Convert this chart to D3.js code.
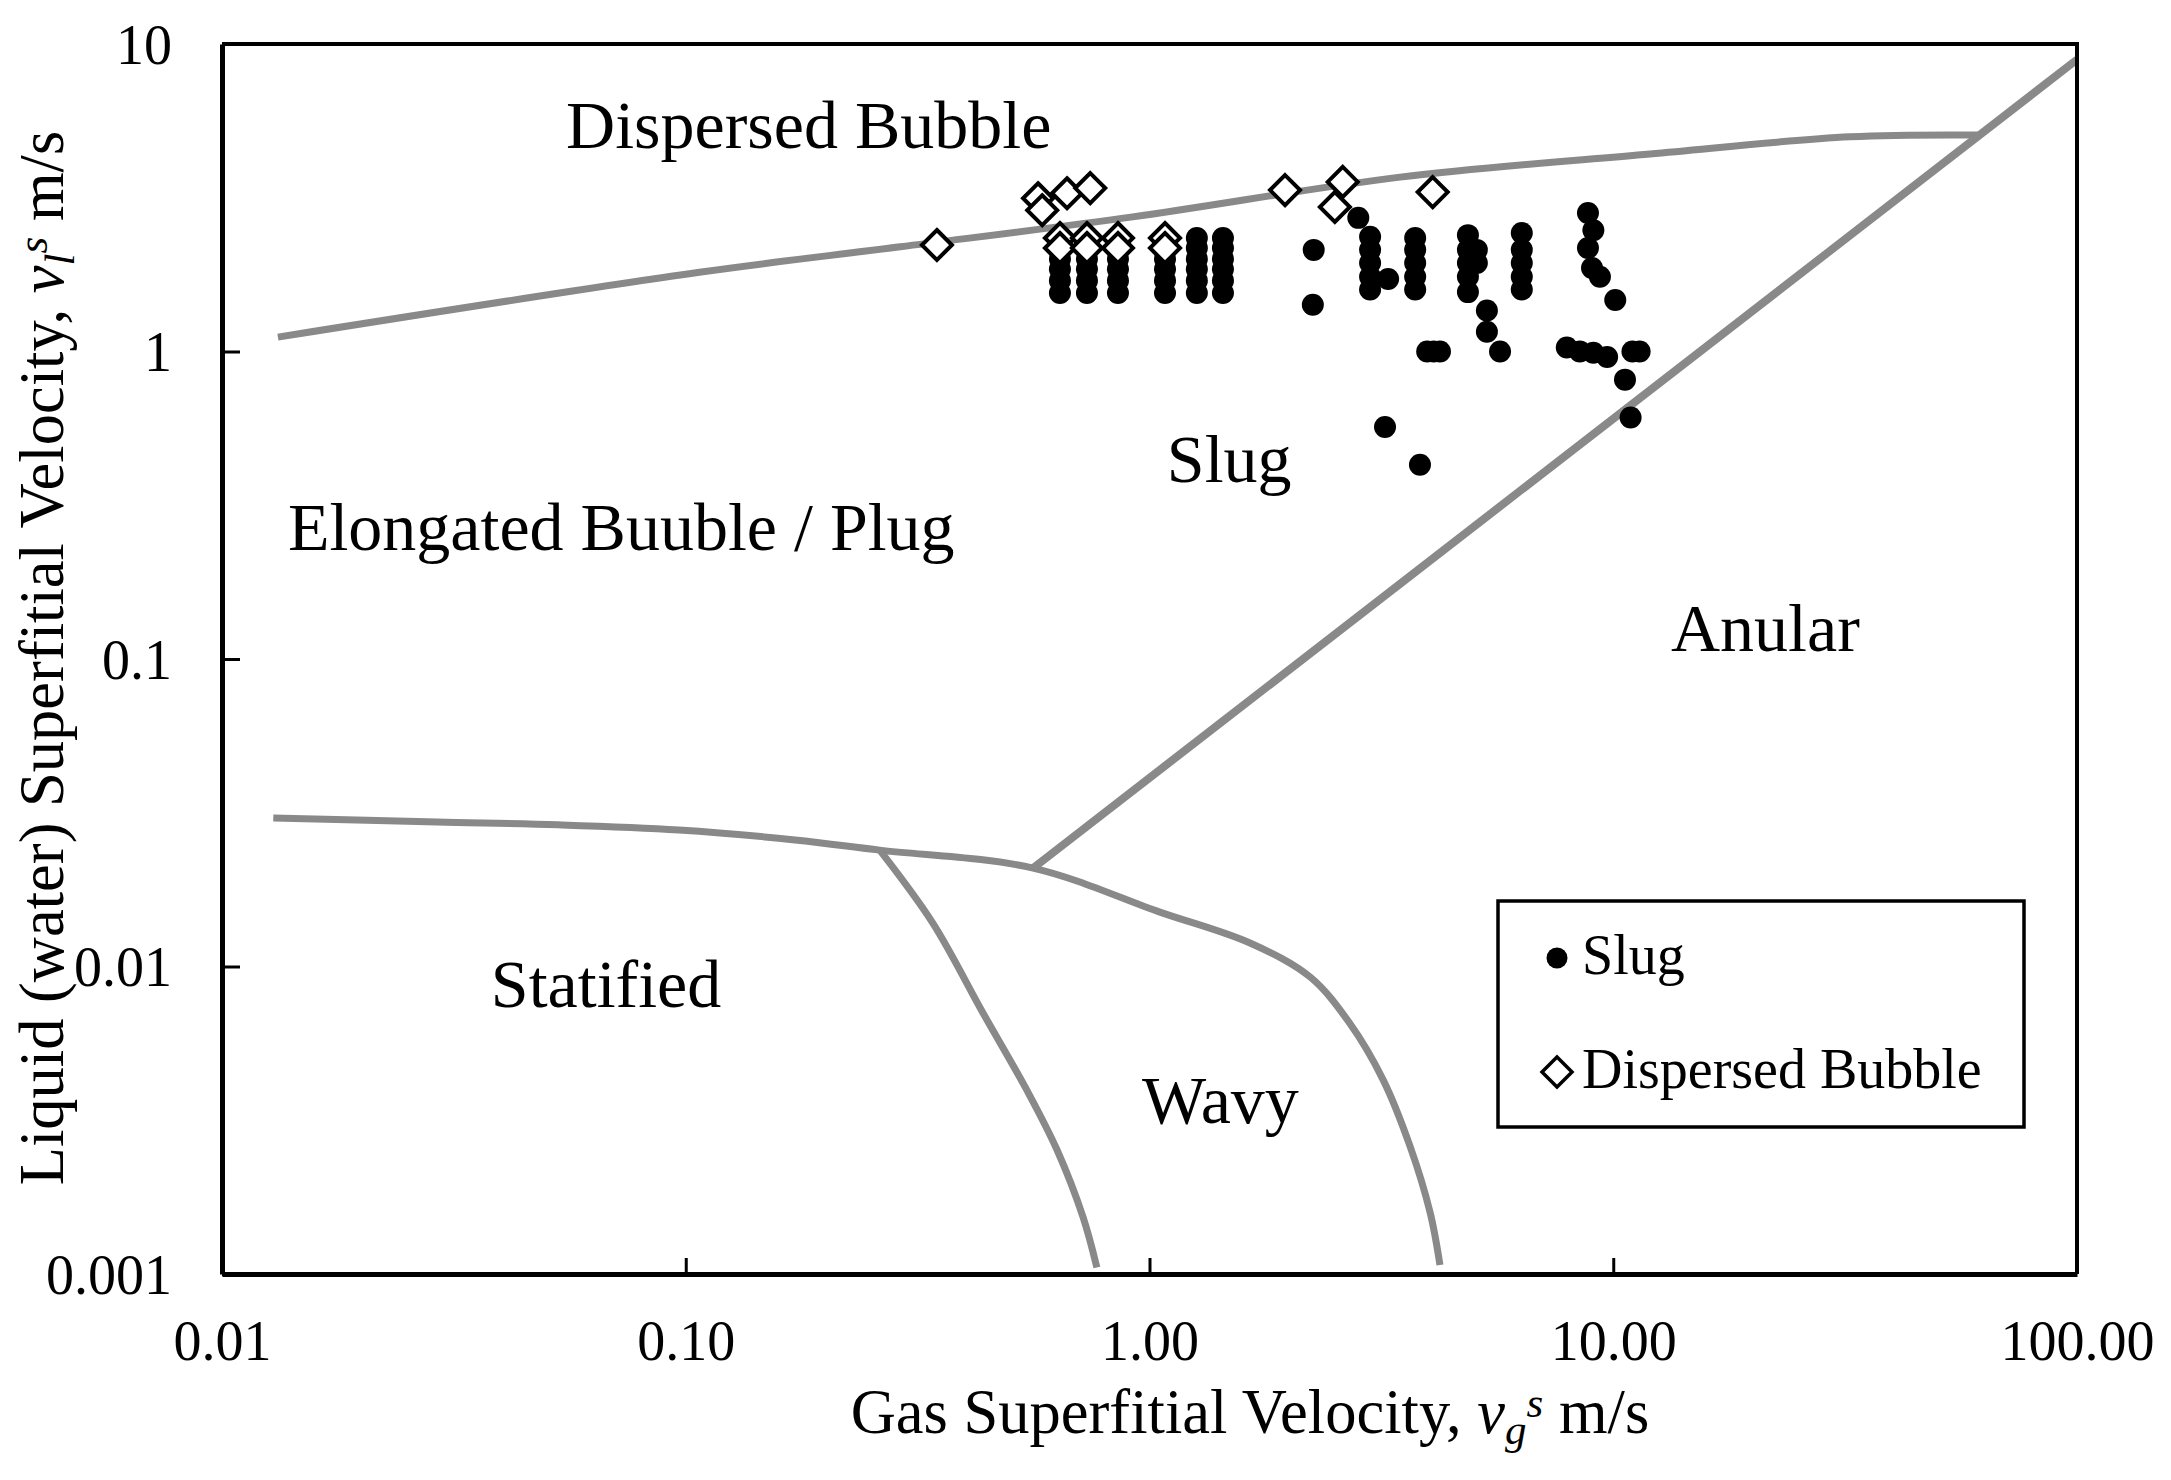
<!DOCTYPE html>
<html>
<head>
<meta charset="utf-8">
<script src="https://cdn.jsdelivr.net/npm/d3@7"></script>
<style>
	body { margin: 0; background: #fff; }
	text { font-family: "Liberation Serif", "Times New Roman", serif; fill: #000; }
</style>
</head>
<body>
<svg id="chart" width="2171" height="1480"></svg>
<script>
// axis ticks
const gasTicks = [0.01, 0.1, 1, 10, 100]
const liquidTicks = [0.001, 0.01, 0.1, 1, 10]

// flow regime boundaries, [gas vel, liquid vel]
const dispersedBoundary = [[0.0132, 1.114], [0.107, 1.81], [0.29, 2.19], [0.92, 2.74], [3.47, 3.69], [12.0, 4.39], [32.4, 4.99], [61.8, 5.06]]
const stratifiedBoundary = [[0.0129, 0.0304], [0.0291, 0.0295], [0.053, 0.0289], [0.0967, 0.0278], [0.172, 0.0258], [0.262, 0.0239], [0.561, 0.0209],
	[1.053, 0.01503], [1.647, 0.01192], [2.219, 0.00925], [2.70, 0.00655], [3.19, 0.00428], [3.65, 0.00259], [4.03, 0.00158], [4.23, 0.00107]]
const wavyBoundary = [[0.262, 0.0239], [0.341, 0.01384], [0.4375, 0.00706], [0.544, 0.00396], [0.632, 0.00253], [0.719, 0.00153], [0.770, 0.00105]]
const annularBoundary = [[0.561, 0.0209], [100, 8.9]]

// observed points
const slugPoints = [
	[0.641, 1.55], [0.641, 1.7], [0.641, 1.85], [0.641, 2.0],
	[0.733, 1.55], [0.733, 1.7], [0.733, 1.85], [0.733, 2.0],
	[0.855, 1.55], [0.855, 1.7], [0.855, 1.85], [0.855, 2.0],
	[1.08, 1.55], [1.08, 1.7], [1.08, 1.85], [1.08, 2.0],
	[1.265, 1.55], [1.265, 1.7], [1.265, 1.85], [1.265, 2.0], [1.265, 2.17], [1.265, 2.34],
	[1.44, 1.55], [1.44, 1.7], [1.44, 1.85], [1.44, 2.0], [1.44, 2.17], [1.44, 2.34],
	[2.26, 2.14], [2.25, 1.42], [2.82, 2.72],
	[2.99, 1.59], [2.99, 1.75], [2.99, 1.94], [2.99, 2.14], [2.99, 2.36],
	[3.27, 1.72],
	[3.74, 1.59], [3.74, 1.75], [3.74, 1.94], [3.74, 2.14], [3.74, 2.34],
	[3.22, 0.568], [3.83, 0.428],
	[3.97, 1.0], [4.1, 1.0], [4.23, 1.0],
	[4.86, 1.56], [4.86, 1.75], [4.86, 1.94], [4.86, 2.14], [4.86, 2.39], [5.08, 2.14], [5.08, 1.94],
	[5.34, 1.36], [5.34, 1.16], [5.70, 1.0],
	[6.35, 1.59], [6.35, 1.75], [6.35, 1.94], [6.35, 2.14], [6.35, 2.43],
	[8.82, 2.82], [9.06, 2.48], [8.82, 2.17], [9.0, 1.87], [9.36, 1.75], [10.1, 1.47],
	[7.94, 1.03], [8.47, 1.0], [9.06, 0.99], [9.7, 0.96], [11.0, 1.0], [11.4, 1.0],
	[10.6, 0.81], [10.9, 0.61]
]
const bubblePoints = [
	[0.348, 2.22], [0.575, 3.15], [0.587, 2.88], [0.664, 3.27], [0.745, 3.40],
	[0.641, 2.34], [0.641, 2.17], [0.733, 2.34], [0.733, 2.17], [0.855, 2.34], [0.855, 2.17],
	[1.08, 2.34], [1.08, 2.17], [1.96, 3.35], [2.61, 3.56], [2.51, 2.95], [4.08, 3.30]
]

// region names and where they sit (data units, left/baseline)
const regionLabels = [
	{ name: "Dispersed Bubble", at: [0.0552, 4.59] },
	{ name: "Slug", at: [1.09, 0.376] },
	{ name: "Elongated Buuble / Plug", at: [0.01387, 0.2262] },
	{ name: "Anular", at: [13.32, 0.1062] },
	{ name: "Statified", at: [0.038, 0.00738] },
	{ name: "Wavy", at: [0.963, 0.0031] }
]
const legendItems = ["Slug", "Dispersed Bubble"]

const plotL = 222, plotR = 2077, plotT = 44, plotB = 1274
const svg = d3.select("#chart")

const x = d3.scaleLog().domain([0.01, 100]).range([plotL, plotR])
const y = d3.scaleLog().domain([0.001, 10]).range([plotB, plotT])

svg.append("defs").append("clipPath").attr("id", "plotClip")
	.append("rect").attr("x", plotL).attr("y", plotT).attr("width", plotR - plotL).attr("height", plotB - plotT)

// boundaries
const curveLine = d3.line().x(d => x(d[0])).y(d => y(d[1])).curve(d3.curveCatmullRom.alpha(0.5))
const bounds = svg.append("g").attr("clip-path", "url(#plotClip)")
	.attr("fill", "none").attr("stroke", "#898989")

bounds.selectAll("path.curve")
	.data([dispersedBoundary, stratifiedBoundary, wavyBoundary])
	.join("path")
		.classed("curve", true)
		.attr("stroke-width", 7)
		.attr("d", curveLine)

bounds.append("path")
	.attr("stroke-width", 8)
	.attr("d", d3.line().x(d => x(d[0])).y(d => y(d[1]))(annularBoundary))

// region labels
svg.append("g").selectAll("text")
	.data(regionLabels)
	.join("text")
		.attr("x", d => x(d.at[0]))
		.attr("y", d => y(d.at[1]))
		.attr("font-size", 68)
		.text(d => d.name)

// axes
const xAxis = d3.axisBottom(x).tickValues(gasTicks).tickFormat(d3.format(".2f"))
	.tickSizeInner(-16).tickSizeOuter(0).tickPadding(46)
const yAxis = d3.axisLeft(y).tickValues(liquidTicks).tickFormat(d => String(d))
	.tickSizeInner(-18).tickSizeOuter(0).tickPadding(50)

const gx = svg.append("g").attr("transform", `translate(0,${plotB})`).call(xAxis)
const gy = svg.append("g").attr("transform", `translate(${plotL},0)`).call(yAxis)
for (let g of [gx, gy]) {
	g.select(".domain").attr("stroke", "#000").attr("stroke-width", 5)
	g.selectAll(".tick line").attr("stroke", "#000").attr("stroke-width", 3)
	g.selectAll(".tick text")
		.attr("font-family", "Liberation Serif, Times New Roman, serif")
		.attr("font-size", 56).attr("fill", "#000")
}
gy.selectAll(".tick text").attr("dy", "0.34em")

// top and right edges of the frame
svg.append("path")
	.attr("d", `M${plotL},${plotT}H${plotR}V${plotB}`)
	.attr("fill", "none").attr("stroke", "#000").attr("stroke-width", 4)

// markers
const diamond = s => `M0,${-s}L${s},0L0,${s}L${-s},0Z`

svg.append("g").selectAll("circle")
	.data(slugPoints)
	.join("circle")
		.attr("cx", d => x(d[0]))
		.attr("cy", d => y(d[1]))
		.attr("r", 11)
		.attr("fill", "#000")

svg.append("g").selectAll("path")
	.data(bubblePoints)
	.join("path")
		.attr("transform", d => `translate(${x(d[0])},${y(d[1])})`)
		.attr("d", diamond(15))
		.attr("fill", "#fff").attr("stroke", "#000").attr("stroke-width", 4)

// axis titles
const xTitle = svg.append("text")
	.attr("x", 1250).attr("y", 1433)
	.attr("text-anchor", "middle").attr("font-size", 62.5)
xTitle.append("tspan").text("Gas Superfitial Velocity, ")
xTitle.append("tspan").attr("font-style", "italic").text("v")
xTitle.append("tspan").attr("font-style", "italic").attr("font-size", 43).attr("dy", 11).text("g")
xTitle.append("tspan").attr("font-style", "italic").attr("font-size", 43).attr("dy", -27).text("s")
xTitle.append("tspan").attr("dy", 16).text(" m/s")

const yTitle = svg.append("text")
	.attr("transform", "translate(63,658) rotate(-90)")
	.attr("text-anchor", "middle").attr("font-size", 62.5)
yTitle.append("tspan").text("Liquid (water) Superfitial Velocity, ")
yTitle.append("tspan").attr("font-style", "italic").text("v")
yTitle.append("tspan").attr("font-style", "italic").attr("font-size", 43).attr("dy", 11).text("l")
yTitle.append("tspan").attr("font-style", "italic").attr("font-size", 43).attr("dy", -27).text("s")
yTitle.append("tspan").attr("dy", 16).text(" m/s")

// legend
const legend = svg.append("g").attr("transform", "translate(1498,901)")
legend.append("rect")
	.attr("width", 526).attr("height", 226)
	.attr("fill", "#fff").attr("stroke", "#000").attr("stroke-width", 3.5)

const rows = legend.selectAll("g.row")
	.data(legendItems)
	.join("g")
		.classed("row", true)
		.attr("transform", (d, i) => `translate(59,${57 + i * 114})`)
rows.filter((d, i) => i === 0).append("circle").attr("r", 10.5).attr("fill", "#000")
rows.filter((d, i) => i === 1).append("path").attr("d", diamond(15))
	.attr("fill", "#fff").attr("stroke", "#000").attr("stroke-width", 3.5)
rows.append("text")
	.attr("x", 25).attr("y", 16)
	.attr("font-size", 56)
	.text(d => d)
</script>
</body>
</html>
